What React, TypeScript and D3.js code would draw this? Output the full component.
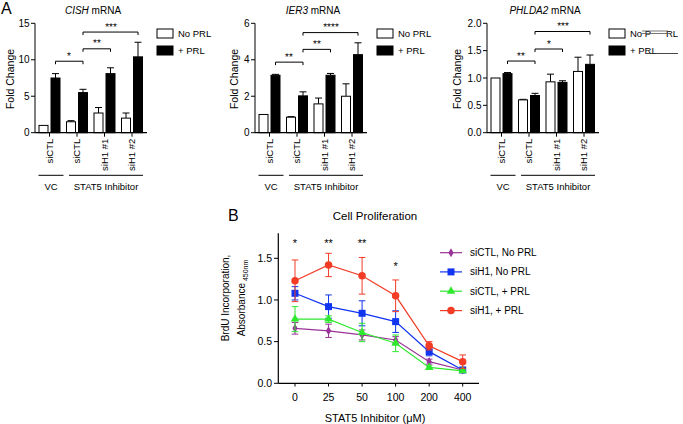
import React from 'react';
import * as d3 from 'd3';

// ---------- Panel A data ----------
const groups = ['VC siCTL', 'STAT5 siCTL', 'STAT5 siH1 #1', 'STAT5 siH1 #2'];
const groupLabels = ['siCTL', 'siCTL', 'siH1 #1', 'siH1 #2'];
const conditions = ['No PRL', '+ PRL'];

const cishNoPRL = [1.0, 1.5, 2.7, 2.0];
const cishNoPRLErr = [0, 0.15, 0.75, 0.7];
const cishPRL = [7.5, 5.5, 8.1, 10.4];
const cishPRLErr = [0.6, 0.45, 0.8, 2.0];
const cishTicks = [0, 5, 10, 15];
const cishBrackets = [
  { a: 0, b: 1, label: '*', level: 9.8 },
  { a: 1, b: 2, label: '**', level: 11.5 },
  { a: 1, b: 3, label: '***', level: 13.8 },
];

const ier3NoPRL = [1.0, 0.85, 1.58, 2.0];
const ier3NoPRLErr = [0, 0.03, 0.32, 0.68];
const ier3PRL = [3.15, 2.02, 3.15, 4.28];
const ier3PRLErr = [0.05, 0.22, 0.1, 0.65];
const ier3Ticks = [0, 2, 4, 6];
const ier3Brackets = [
  { a: 0, b: 1, label: '**', level: 3.87 },
  { a: 1, b: 2, label: '**', level: 4.57 },
  { a: 1, b: 3, label: '****', level: 5.49 },
];

const phldaNoPRL = [1.0, 0.6, 0.93, 1.12];
const phldaNoPRLErr = [0, 0.01, 0.14, 0.26];
const phldaPRL = [1.08, 0.68, 0.92, 1.25];
const phldaPRLErr = [0.02, 0.04, 0.03, 0.17];
const phldaTicks = [0, 0.5, 1.0, 1.5, 2.0];
const phldaBrackets = [
  { a: 0, b: 1, label: '**', level: 1.31 },
  { a: 1, b: 2, label: '*', level: 1.53 },
  { a: 1, b: 3, label: '***', level: 1.85 },
];

// ---------- Panel B data ----------
const doses = ['0', '25', '50', '100', '200', '400'];
const bTicks = [0, 0.5, 1.0, 1.5];
const siCTLNoPRL = [0.66, 0.63, 0.58, 0.52, 0.26, 0.16];
const siCTLNoPRLErr = [0.07, 0.08, 0.06, 0.04, 0.03, 0.01];
const siH1NoPRL = [1.08, 0.92, 0.84, 0.74, 0.38, 0.16];
const siH1NoPRLErr = [0.08, 0.14, 0.15, 0.13, 0.05, 0.01];
const siCTLPRL = [0.77, 0.77, 0.61, 0.48, 0.19, 0.15];
const siCTLPRLErr = [0.15, 0.04, 0.11, 0.1, 0.02, 0.01];
const siH1PRL = [1.23, 1.42, 1.29, 1.05, 0.45, 0.26];
const siH1PRLErr = [0.25, 0.14, 0.22, 0.19, 0.05, 0.08];
const bStars = [
  { dose: '0', label: '*', level: 1.63 },
  { dose: '25', label: '**', level: 1.63 },
  { dose: '50', label: '**', level: 1.63 },
  { dose: '100', label: '*', level: 1.365 },
];

const FONT = "'Liberation Sans', Arial, Helvetica, sans-serif";

type Bracket = { a: number; b: number; label: string; level: number };

function BarPanel(props: {
  gene: string;
  axisX: number;
  yMax: number;
  ticks: number[];
  fmt: (n: number) => string;
  noPRL: number[];
  noErr: number[];
  prl: number[];
  prlErr: number[];
  brackets: Bracket[];
  ylabelX: number;
  glitch?: boolean;
}) {
  const { gene, axisX, yMax, ticks, fmt, noPRL, noErr, prl, prlErr, brackets, ylabelX, glitch } = props;
  const y = d3.scaleLinear().domain([0, yMax]).range([132.7, 23.3]);
  const x = d3.scaleBand().domain(groups).range([axisX + 0.75, axisX + 110.75]).padding(0);
  const sub = d3.scaleBand().domain(conditions).range([0, 21]).paddingInner(0.25).paddingOuter(0);
  const center = (i: number) => (x(groups[i]) as number) + x.bandwidth() / 2;
  const barX = (i: number, c: string) => center(i) - 10.5 + (sub(c) as number);
  const bw = sub.bandwidth();
  const y0 = y(0);
  const series = [
    { c: conditions[0], vals: noPRL, errs: noErr, fill: '#fff' },
    { c: conditions[1], vals: prl, errs: prlErr, fill: '#000' },
  ];
  const blackCenter = (i: number) => barX(i, conditions[1]) + bw / 2;
  const legX = axisX + 122;
  return (
    <g>
      <text x={axisX + 58} y={13.5} fontSize={10} textAnchor="middle" fill="#000">
        <tspan fontStyle="italic">{gene}</tspan> mRNA
      </text>
      <text
        transform={`translate(${ylabelX},79) rotate(-90)`}
        fontSize={10.5}
        textAnchor="middle"
        dy="0.35em"
        fill="#000"
      >
        Fold Change
      </text>
      {/* bars */}
      {series.map((s) =>
        s.vals.map((v, i) => {
          const bx = barX(i, s.c);
          const cx = bx + bw / 2;
          const e = s.errs[i];
          return (
            <g key={s.c + i}>
              {e > 0 && (
                <g stroke="#000" strokeWidth={1}>
                  <line x1={cx} x2={cx} y1={y(v)} y2={y(v + e)} />
                  <line x1={cx - 3.5} x2={cx + 3.5} y1={y(v + e)} y2={y(v + e)} />
                </g>
              )}
              <rect x={bx} y={y(v)} width={bw} height={y0 - y(v)} fill={s.fill} stroke="#000" strokeWidth={1} />
            </g>
          );
        })
      )}
      {/* y axis */}
      <line x1={axisX} x2={axisX} y1={y(yMax)} y2={y0} stroke="#000" strokeWidth={1} />
      {ticks.map((t) => (
        <g key={t}>
          <line x1={axisX - 4} x2={axisX} y1={y(t)} y2={y(t)} stroke="#000" strokeWidth={1} />
          <text x={axisX - 5.5} y={y(t)} dy="0.35em" fontSize={10} textAnchor="end" fill="#000">
            {fmt(t)}
          </text>
        </g>
      ))}
      {/* x axis */}
      <line x1={axisX} x2={axisX + 112} y1={y0} y2={y0} stroke="#000" strokeWidth={1.2} />
      {groups.map((g, i) => (
        <g key={g}>
          <line x1={center(i)} x2={center(i)} y1={y0} y2={y0 + 4} stroke="#000" strokeWidth={1} />
          <text
            transform={`translate(${center(i)},${y0 + 6}) rotate(-90)`}
            fontSize={9.5}
            textAnchor="end"
            dy="0.35em"
            fill="#000"
          >
            {groupLabels[i]}
          </text>
        </g>
      ))}
      {/* group underlines */}
      <line x1={center(0) - 11} x2={center(0) + 14} y1={175.3} y2={175.3} stroke="#000" strokeWidth={1} />
      <line x1={center(1) - 8} x2={center(3) + 11} y1={175.3} y2={175.3} stroke="#000" strokeWidth={1} />
      <text x={center(0) + 1.5} y={189.5} fontSize={9.5} textAnchor="middle" fill="#000">VC</text>
      <text x={(center(1) - 8 + center(3) + 11) / 2} y={189.5} fontSize={9.5} textAnchor="middle" fill="#000">
        STAT5 Inhibitor
      </text>
      {/* significance brackets */}
      {brackets.map((b, k) => {
        const ly = y(b.level);
        const xa = blackCenter(b.a);
        const xb = blackCenter(b.b);
        return (
          <g key={k}>
            <path
              d={`M${xa},${ly + 3}V${ly}H${xb}V${ly + 3}`}
              fill="none"
              stroke="#000"
              strokeWidth={1}
            />
            <text
              x={Math.round((xa + xb) / 2)}
              y={Math.round(ly - 2.5)}
              fontSize={10}
              textAnchor="middle"
              fill="#000"
              style={{ textRendering: 'geometricPrecision' }}
            >
              {b.label}
            </text>
          </g>
        );
      })}
      {/* legend */}
      <rect x={legX} y={29} width={16} height={9} fill="#fff" stroke="#000" strokeWidth={1} />
      <rect x={legX} y={46} width={16} height={9} fill="#000" stroke="#000" strokeWidth={1} />
      {glitch ? (
        <>
          <text y={37} fontSize={9.5} fill="#000">
            <tspan x={legX + 21}>No P</tspan>
            <tspan x={legX + 57}>RL</tspan>
          </text>
          <line x1={legX + 33} x2={legX + 59} y1={31} y2={31} stroke="#555" strokeWidth={0.8} />
          <line x1={legX + 33} x2={legX + 59} y1={33.5} y2={33.5} stroke="#555" strokeWidth={0.8} />
          <text x={legX + 21} y={54} fontSize={9.5} fill="#000">
            {conditions[1]}
          </text>
          <line x1={legX + 37} x2={legX + 69} y1={53.5} y2={53.5} stroke="#333" strokeWidth={0.9} />
        </>
      ) : (
        <>
          <text x={legX + 21} y={37} fontSize={9.5} fill="#000">
            {conditions[0]}
          </text>
          <text x={legX + 21} y={54} fontSize={9.5} fill="#000">
            {conditions[1]}
          </text>
        </>
      )}
    </g>
  );
}

function LinePanel() {
  const yB = d3.scaleLinear().domain([0, 1.8]).range([383.3, 233.3]);
  const xB = d3.scalePoint().domain(doses).range([295, 462.7]);
  const series = [
    { name: 'siCTL, No PRL', color: '#993399', shape: d3.symbolDiamond, size: 24, vals: siCTLNoPRL, errs: siCTLNoPRLErr },
    { name: 'siH1, No PRL', color: '#1034f0', shape: d3.symbolSquare, size: 49, vals: siH1NoPRL, errs: siH1NoPRLErr },
    { name: 'siCTL, + PRL', color: '#2ee82e', shape: d3.symbolTriangle, size: 32, vals: siCTLPRL, errs: siCTLPRLErr },
    { name: 'siH1, + PRL', color: '#f23c26', shape: d3.symbolCircle, size: 44, vals: siH1PRL, errs: siH1PRLErr },
  ];
  const line = d3
    .line<number>()
    .x((_, i) => xB(doses[i]) as number)
    .y((v) => yB(v));
  const legendY = [252.7, 271.9, 291.2, 310.6];
  return (
    <g fill="#000">
      <text x={228} y={221} fontSize={16}>B</text>
      <text x={375} y={220} fontSize={11.5} textAnchor="middle">Cell Proliferation</text>
      {/* y label */}
      <text transform="translate(225,298) rotate(-90)" fontSize={10} textAnchor="middle" dy="0.35em">
        BrdU Incorporation,
      </text>
      <text transform="translate(241.5,298) rotate(-90)" fontSize={10} textAnchor="middle" dy="0.35em">
        Absorbance<tspan fontSize={7} dy="2.5"> 450nm</tspan>
      </text>
      {/* axes */}
      <line x1={278.3} x2={278.3} y1={233.3} y2={383.3} stroke="#000" strokeWidth={1.2} />
      <line x1={278.3} x2={479} y1={383.3} y2={383.3} stroke="#000" strokeWidth={1.2} />
      {bTicks.map((t) => (
        <g key={t}>
          <line x1={274} x2={278.3} y1={yB(t)} y2={yB(t)} stroke="#000" strokeWidth={1} />
          <text x={272} y={yB(t)} dy="0.35em" fontSize={10.5} textAnchor="end">
            {d3.format('.1f')(t)}
          </text>
        </g>
      ))}
      {doses.map((d) => (
        <g key={d}>
          <line x1={xB(d)} x2={xB(d)} y1={383.3} y2={386.5} stroke="#000" strokeWidth={1} />
          <text x={xB(d)} y={400.8} fontSize={10.5} textAnchor="middle">
            {d}
          </text>
        </g>
      ))}
      <text x={375} y={421.5} fontSize={11} textAnchor="middle">
        STAT5 Inhibitor (μM)
      </text>
      {/* series */}
      {series.map((s) => (
        <g key={s.name}>
          <path d={line(s.vals) as string} fill="none" stroke={s.color} strokeWidth={1.2} />
          {s.vals.map((v, i) => {
            const cx = xB(doses[i]) as number;
            const e = s.errs[i];
            return (
              <g key={i} stroke={s.color} strokeWidth={1}>
                <line x1={cx} x2={cx} y1={yB(v - e)} y2={yB(v + e)} />
                <line x1={cx - 3.3} x2={cx + 3.3} y1={yB(v + e)} y2={yB(v + e)} />
                <line x1={cx - 3.3} x2={cx + 3.3} y1={yB(v - e)} y2={yB(v - e)} />
              </g>
            );
          })}
          {s.vals.map((v, i) => (
            <path
              key={'m' + i}
              d={d3.symbol().type(s.shape).size(s.size)() as string}
              transform={`translate(${xB(doses[i])},${yB(v)})`}
              fill={s.color}
            />
          ))}
        </g>
      ))}
      {bStars.map((s) => (
        <text key={s.dose} x={xB(s.dose)} y={yB(s.level)} fontSize={11} textAnchor="middle">
          {s.label}
        </text>
      ))}
      {/* legend */}
      {series.map((s, k) => (
        <g key={s.name}>
          <line x1={440} x2={462} y1={legendY[k]} y2={legendY[k]} stroke={s.color} strokeWidth={1.2} />
          <path
            d={d3.symbol().type(s.shape).size(s.size)() as string}
            transform={`translate(451,${legendY[k]})`}
            fill={s.color}
          />
          <text x={470} y={legendY[k]} dy="0.35em" fontSize={10}>
            {s.name}
          </text>
        </g>
      ))}
    </g>
  );
}

export default function App() {
  const f0 = (n: number) => d3.format('d')(n);
  const f1 = (n: number) => d3.format('.1f')(n);
  return (
    <svg
      width={683}
      height={424}
      style={{ position: 'absolute', left: 0, top: 0, background: '#fff' }}
      fontFamily={FONT}
      fill="#000"
    >
      <rect width={683} height={424} fill="#fff" />
      <text x={1} y={14} fontSize={16}>A</text>
      <BarPanel gene="CISH" axisX={35} yMax={15} ticks={cishTicks} fmt={f0}
        noPRL={cishNoPRL} noErr={cishNoPRLErr} prl={cishPRL} prlErr={cishPRLErr}
        brackets={cishBrackets} ylabelX={10} />
      <BarPanel gene="IER3" axisX={255} yMax={6} ticks={ier3Ticks} fmt={f0}
        noPRL={ier3NoPRL} noErr={ier3NoPRLErr} prl={ier3PRL} prlErr={ier3PRLErr}
        brackets={ier3Brackets} ylabelX={234} />
      <BarPanel gene="PHLDA2" axisX={487} yMax={2} ticks={phldaTicks} fmt={f1}
        noPRL={phldaNoPRL} noErr={phldaNoPRLErr} prl={phldaPRL} prlErr={phldaPRLErr}
        brackets={phldaBrackets} ylabelX={457} glitch />
      <LinePanel />
    </svg>
  );
}
